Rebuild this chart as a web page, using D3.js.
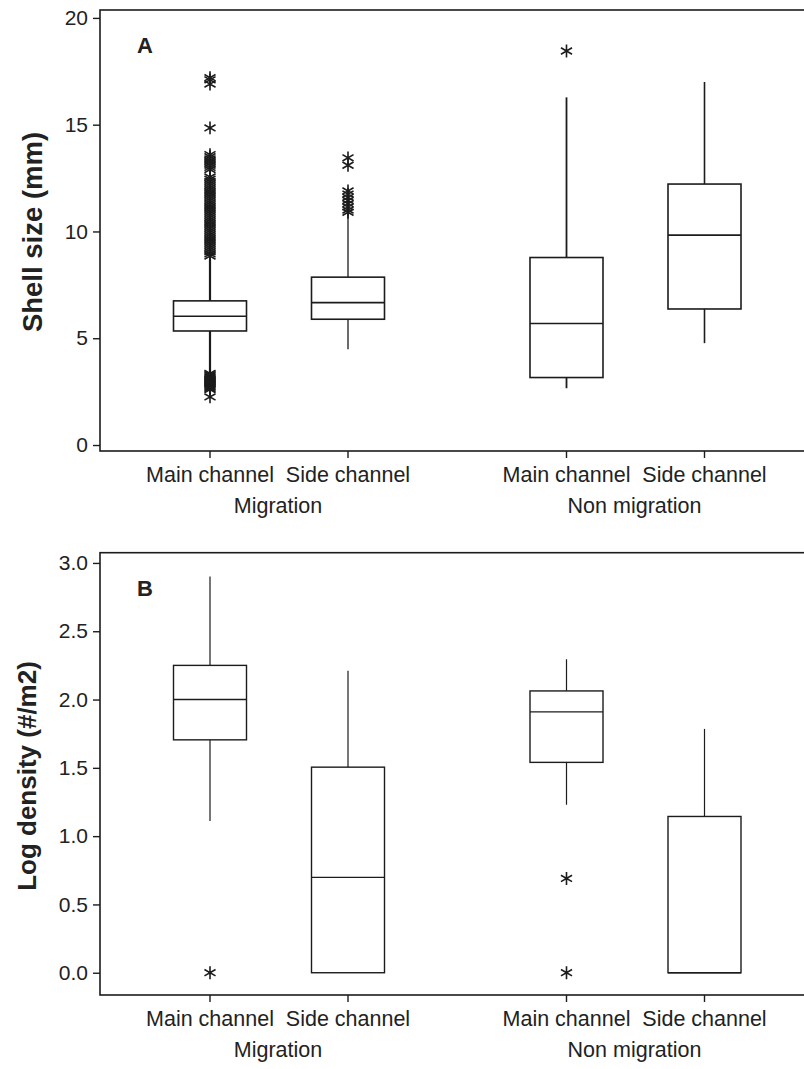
<!DOCTYPE html>
<html>
<head>
<meta charset="utf-8">
<script src="https://cdn.jsdelivr.net/npm/d3@7"></script>
<style>
  body { margin: 0; background: #fff; }
  svg { display: block; font-family: "Liberation Sans", Arial, sans-serif; }
</style>
</head>
<body>
<svg id="chart" width="804" height="1069"></svg>
<script>
const groups = ["Migration", "Non migration"];
const channels = ["Main channel", "Side channel"];

// panel A: shell size, [whisker low, q1, median, q3, whisker high]
const sizeTicks = [0, 5, 10, 15, 20];
const sizeMigMain = [3.35, 5.34, 6.03, 6.75, 8.7];
const sizeMigSide = [4.48, 5.89, 6.67, 7.86, 10.8];
const sizeNonMain = [2.66, 3.16, 5.69, 8.78, 16.28];
const sizeNonSide = [4.77, 6.37, 9.83, 12.22, 17.0];
const sizeMigMainOut = [2.25, 2.6, 2.65, 2.7, 2.75, 2.8, 2.85, 2.9, 2.95, 3.0, 3.05, 3.1, 3.15, 3.2, 3.25, 3.3, 3.35,
  8.85, 8.95, 9.05, 9.15, 9.25, 9.35, 9.45, 9.55, 9.65, 9.75, 9.85, 9.95, 10.05, 10.15, 10.25, 10.35, 10.45,
  10.55, 10.65, 10.75, 10.85, 10.95, 11.05, 11.15, 11.25, 11.35, 11.45, 11.55, 11.65, 11.75, 11.85, 11.95,
  12.05, 12.15, 12.25, 12.35, 12.45, 12.55, 12.9, 13.0, 13.1, 13.2, 13.3, 13.4, 13.5, 13.6, 14.85, 16.9, 17.1, 17.2];
const sizeMigSideOut = [10.9, 11.0, 11.15, 11.3, 11.45, 11.6, 11.75, 11.9, 13.1, 13.45];
const sizeNonMainOut = [18.45];
const sizeNonSideOut = [];

// panel B: log density
const densityTicks = [0, 0.5, 1.0, 1.5, 2.0, 2.5, 3.0];
const densMigMain = [1.11, 1.705, 2.0, 2.25, 2.9];
const densMigSide = [0, 0, 0.698, 1.505, 2.21];
const densNonMain = [1.23, 1.54, 1.91, 2.063, 2.295];
const densNonSide = [0, 0, 0, 1.144, 1.785];
const densMigMainOut = [0];
const densMigSideOut = [];
const densNonMainOut = [0.69, 0];
const densNonSideOut = [];

const svg = d3.select("#chart");
const ink = "#1c1c1c";
const boxWidth = 73;

const groupX = d3.scalePoint().domain(groups).range([279, 635.5]);
const channelX = d3.scalePoint().domain(channels).range([-69, 69]);
const xPos = (g, c) => groupX(g) + channelX(c);

function drawPanel(p) {
  const g = svg.append("g");
  const y = d3.scaleLinear().domain(p.domain).range([p.bottom, p.top]);
  const left = 100, right = 806;

  // frame
  g.append("rect")
    .attr("x", left).attr("y", p.top)
    .attr("width", right - left).attr("height", p.bottom - p.top)
    .attr("fill", "none").attr("stroke", ink).attr("stroke-width", 1.6);

  // y axis
  const yAxis = d3.axisLeft(y).tickValues(p.ticks).tickSize(7).tickPadding(5)
    .tickFormat(p.format);
  const ya = g.append("g").attr("transform", `translate(${left},0)`).call(yAxis);
  ya.select(".domain").remove();
  ya.selectAll("line").attr("stroke", ink).attr("stroke-width", 1.4);
  ya.selectAll("text").attr("fill", "#222").style("font-size", "21px")
    .style("font-family", "'Liberation Sans', Arial, sans-serif");

  // x ticks and labels
  const cats = [];
  groups.forEach(gr => channels.forEach(c => cats.push({ g: gr, c: c })));
  g.selectAll(".xtick").data(cats).enter().append("line")
    .attr("x1", d => xPos(d.g, d.c)).attr("x2", d => xPos(d.g, d.c))
    .attr("y1", p.bottom).attr("y2", p.bottom + 7)
    .attr("stroke", ink).attr("stroke-width", 1.4);
  g.selectAll(".xlab").data(cats).enter().append("text")
    .attr("x", d => xPos(d.g, d.c)).attr("y", p.bottom + 31)
    .attr("text-anchor", "middle").attr("fill", "#222")
    .style("font-size", "21.5px").text(d => d.c);
  g.selectAll(".glab").data(groups).enter().append("text")
    .attr("x", d => groupX(d) - 1).attr("y", p.bottom + 62)
    .attr("text-anchor", "middle").attr("fill", "#222")
    .style("font-size", "21.5px").text(d => d);

  // y title
  g.append("text")
    .attr("transform", `translate(${p.titleX},${p.titleY}) rotate(-90)`)
    .attr("text-anchor", "middle").attr("fill", "#222")
    .style("font-size", p.titleSize).style("font-weight", "bold").text(p.title);

  // panel letter
  g.append("text").attr("x", 137).attr("y", p.top + 43)
    .attr("fill", "#222").style("font-size", "22px").style("font-weight", "bold")
    .text(p.letter);

  // boxes
  const boxes = g.selectAll(".box").data(p.boxes).enter().append("g");
  boxes.each(function (d) {
    const b = d3.select(this);
    const cx = xPos(d.g, d.c);
    const [lo, q1, med, q3, hi] = d.stats;
    b.append("line").attr("x1", cx).attr("x2", cx)
      .attr("y1", y(q3)).attr("y2", y(hi))
      .attr("stroke", ink).attr("stroke-width", d.w);
    b.append("line").attr("x1", cx).attr("x2", cx)
      .attr("y1", y(q1)).attr("y2", y(lo))
      .attr("stroke", ink).attr("stroke-width", d.w);
    b.append("rect")
      .attr("x", cx - boxWidth / 2).attr("width", boxWidth)
      .attr("y", y(q3)).attr("height", y(q1) - y(q3))
      .attr("fill", "#fff").attr("stroke", ink).attr("stroke-width", p.boxStroke);
    b.append("line")
      .attr("x1", cx - boxWidth / 2).attr("x2", cx + boxWidth / 2)
      .attr("y1", y(med)).attr("y2", y(med))
      .attr("stroke", ink).attr("stroke-width", p.boxStroke);
    b.selectAll(".out").data(d.out).enter().append("path")
      .attr("transform", v => `translate(${cx},${y(v)})`)
      .attr("d", d3.symbol(d3.symbolAsterisk, 115))
      .attr("fill", "none").attr("stroke", ink).attr("stroke-width", 1.6);
  });
}

drawPanel({
  top: 10, bottom: 451, domain: [-0.28, 20.37], ticks: sizeTicks,
  format: d3.format("d"), title: "Shell size (mm)", titleX: 42, titleY: 232,
  titleSize: "27.5px", letter: "A", boxStroke: 1.6,
  boxes: [
    { g: groups[0], c: channels[0], stats: sizeMigMain, out: sizeMigMainOut, w: 2.2 },
    { g: groups[0], c: channels[1], stats: sizeMigSide, out: sizeMigSideOut, w: 1.3 },
    { g: groups[1], c: channels[0], stats: sizeNonMain, out: sizeNonMainOut, w: 1.8 },
    { g: groups[1], c: channels[1], stats: sizeNonSide, out: sizeNonSideOut, w: 1.6 }
  ]
});

drawPanel({
  top: 552.7, bottom: 995, domain: [-0.163, 3.075], ticks: densityTicks,
  format: d3.format(".1f"), title: "Log density (#/m2)", titleX: 36, titleY: 776,
  titleSize: "26px", letter: "B", boxStroke: 1.4,
  boxes: [
    { g: groups[0], c: channels[0], stats: densMigMain, out: densMigMainOut, w: 1.2 },
    { g: groups[0], c: channels[1], stats: densMigSide, out: densMigSideOut, w: 1.2 },
    { g: groups[1], c: channels[0], stats: densNonMain, out: densNonMainOut, w: 1.2 },
    { g: groups[1], c: channels[1], stats: densNonSide, out: densNonSideOut, w: 1.2 }
  ]
});
</script>
</body>
</html>
